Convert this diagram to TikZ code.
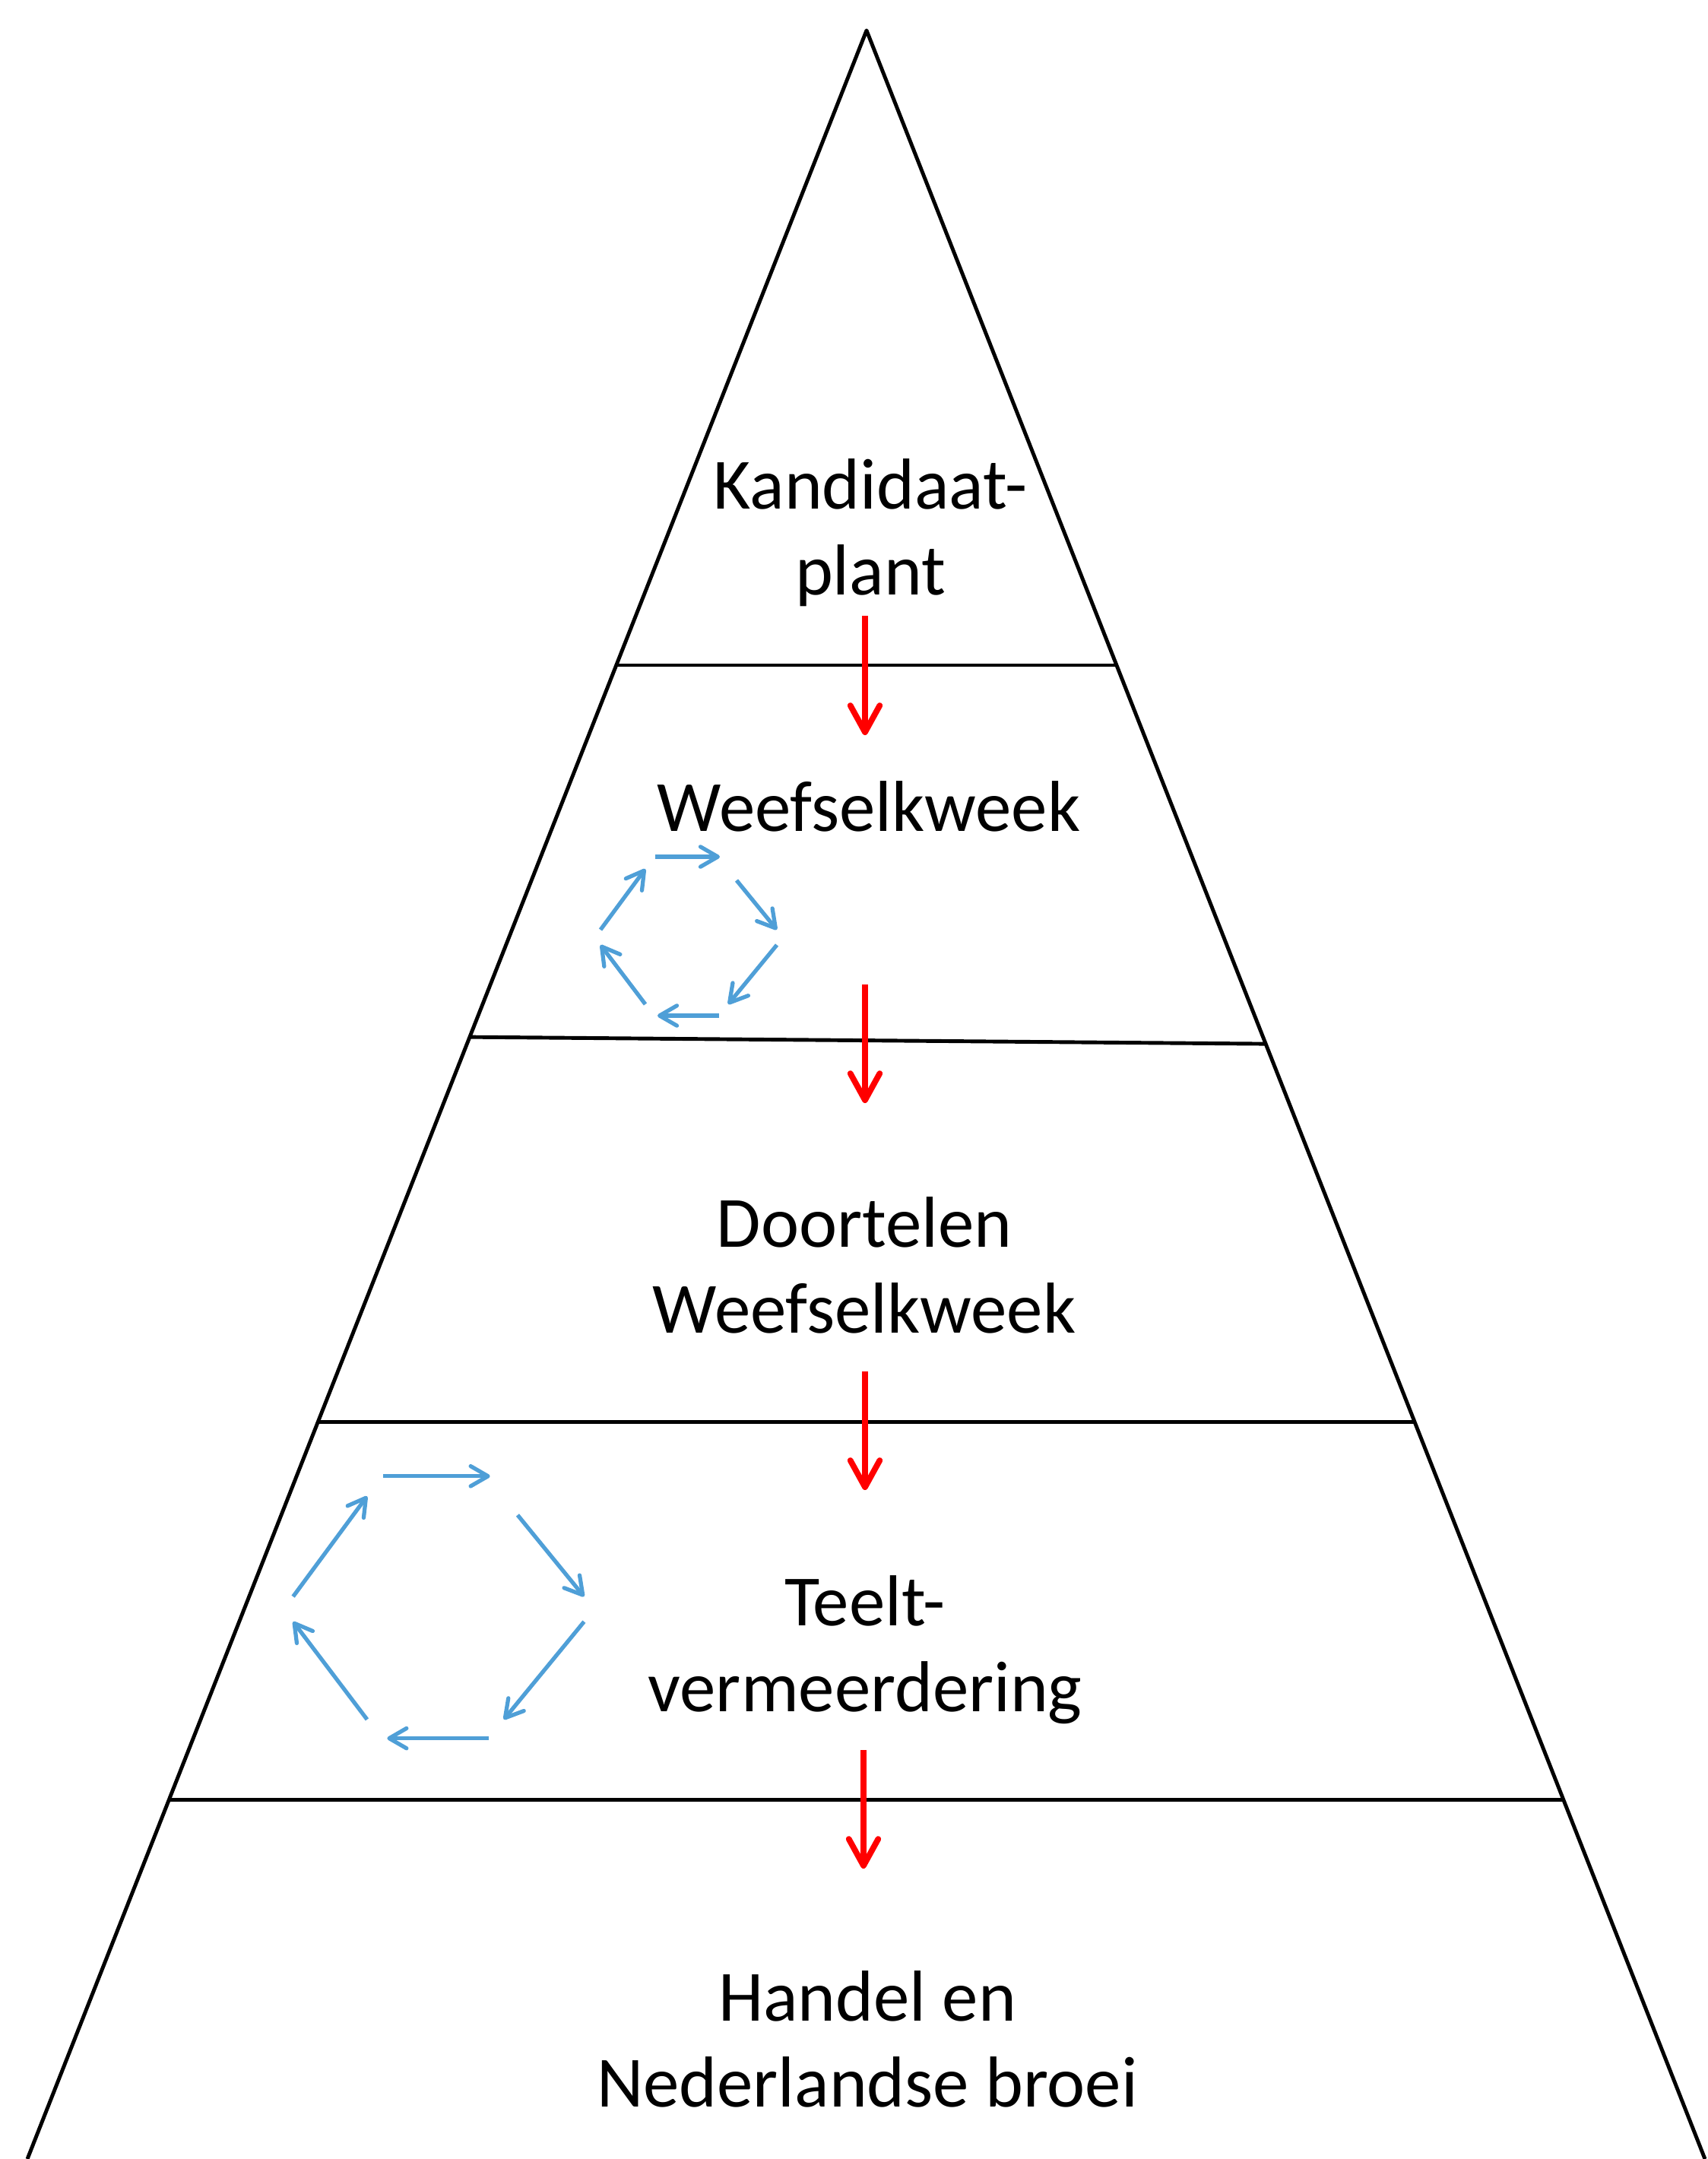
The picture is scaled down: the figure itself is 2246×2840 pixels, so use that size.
\documentclass[tikz,border=0pt]{standalone}
\usepackage{fontspec}
\setmainfont{Carlito}
\usepackage{xcolor}
\definecolor{flowred}{HTML}{FF0000}
\definecolor{cycleblue}{HTML}{4F9FD7}
\usepackage{tikz}
\usetikzlibrary{arrows.meta,calc}

\tikzset{
  tier/.style={black, line width=1.4pt, line join=round},
  tiertext/.style={font=\fontsize{27}{32}\selectfont, align=center, anchor=base, inner sep=0pt},
  flow/.style={-{Straight Barb[round,length=10pt,width=11pt]}, flowred, line width=2.2pt},
  cyclearrow/.style={-{Straight Barb[round,length=6.5pt,width=7.5pt]}, cycleblue, line width=1.5pt}
}

% six arrows round a hexagon, #1 = centre, #2 = size
\newcommand{\cyclehex}[2]{%
  \begin{scope}[shift={#1}, scale=#2]
    \foreach \xa/\ya/\xb/\yb in {-44/-105/41/-105, 63/-74/116/-9, 116/11/52/89,
                                 40/104/-41/104, -57/89/-116/11, -116/-9/-57/-89}
      \draw[cyclearrow] (\xa,\ya) -- (\xb,\yb);
  \end{scope}}

\begin{document}
\begin{tikzpicture}[x=0.1mm, y=-0.1mm]
        \useasboundingbox (0,0) rectangle (2246,2840);
        % Pyramid outline
        \coordinate (apex) at (1140,40);
        \coordinate (bl) at (36,2840);
        \coordinate (br) at (2243,2840);
        \draw[tier] (bl) -- (apex) -- (br);
        % Tier lines
        \foreach \n/\tl/\tr in {1/0.2982/0.2982, 2/0.4729/0.4761, 3/0.6539/0.6539, 4/0.8311/0.8311} {
          \coordinate (l\n) at ($(apex)!\tl!(bl)$);
          \coordinate (r\n) at ($(apex)!\tr!(br)$);
          \draw[tier] (l\n) -- (r\n);
        }
        % Tier texts (base = last line)
        \node[tiertext] (kandidaat) at (1145,782) {Kandidaat-\\plant};
        \node[tiertext] (weefsel) at (1143,1093) {Weefselkweek};
        \node[tiertext] (doortelen) at (1137,1753) {Doortelen\\Weefselkweek};
        \node[tiertext] (teelt) at (1138,2251) {Teelt-\\vermeerdering};
        \node[tiertext] (handel) at (1141,2771) {Handel en\\Nederlandse broei};
        % Flow arrows
        \foreach \i/\x/\ya/\yb in {1/1138/810/967, 2/1138/1295/1451, 3/1138/1804/1960, 4/1136/2302/2458} {
          \coordinate (f\i top) at (\x,\ya);
          \coordinate (f\i tip) at (\x,\yb);
          \draw[flow] (f\i top) -- (f\i tip);
        }
        % Propagation cycles
        \cyclehex{(906,1232)}{1}
        \cyclehex{(577,2115)}{1.65}
      \end{tikzpicture}
\end{document}
